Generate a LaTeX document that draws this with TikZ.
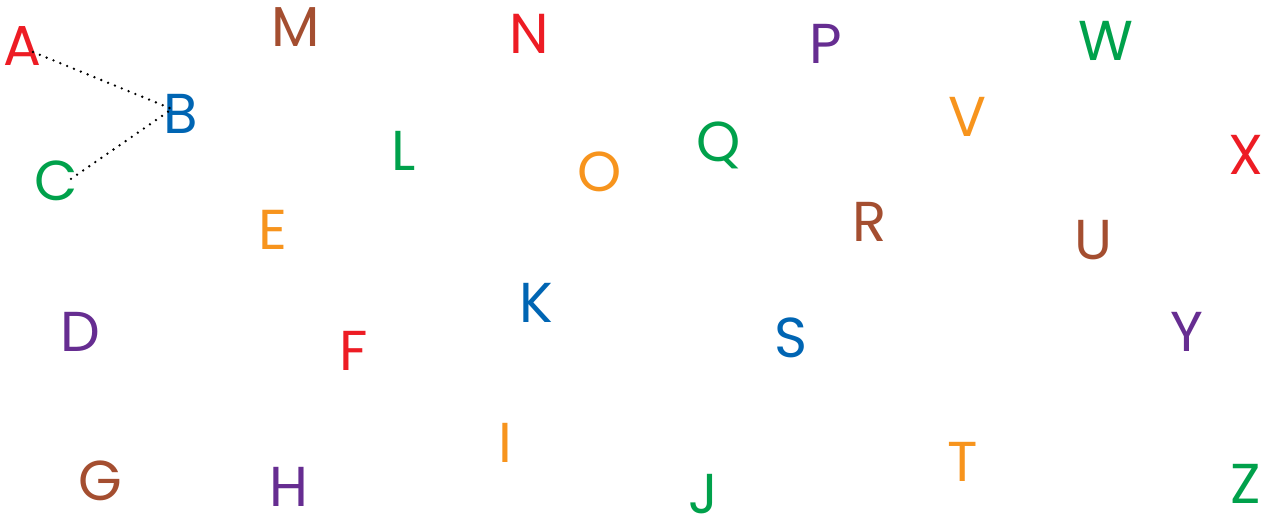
\documentclass[tikz,border=0pt]{standalone}
\usepackage{fontspec}
\setmainfont{Poppins}
\definecolor{lred}{RGB}{237,28,36}
\definecolor{lblue}{RGB}{0,101,179}
\definecolor{lgreen}{RGB}{0,161,75}
\definecolor{lorange}{RGB}{247,148,29}
\definecolor{lpurple}{RGB}{102,45,145}
\definecolor{lbrown}{RGB}{164,78,48}
\tikzset{
  letter/.style={inner sep=0pt, anchor=base, font=\fontsize{32}{36}\selectfont},
  dotline/.style={line width=1.5pt, line cap=round, dash pattern=on 0pt off 4.2pt}
}
\begin{document}
\begin{tikzpicture}[x=0.02cm, y=-0.02cm]
	\useasboundingbox (0,0) rectangle (1270,521);
	% letters, placed by base line
	\foreach \l/\x/\y/\c in {A/22/65/lred, M/296/46/lbrown, N/529/53/lred, P/826/63/lpurple, W/1106/60/lgreen,
			B/181/133/lblue, V/967/136/lorange, L/404/170/lgreen, Q/719/161/lgreen, O/600/191/lorange, X/1246/174/lred,
			C/56/200/lgreen, E/273/249/lorange, R/870/241/lbrown, U/1093/259/lbrown,
			K/536/322/lblue, D/80/351/lpurple, S/791/357/lblue, Y/1187/351/lpurple, F/354/370/lred,
			I/505/462/lorange, T/963/481/lorange, G/100/500/lbrown, H/289/506/lpurple, J/703/513/lgreen, Z/1246/503/lgreen}{
		\node[letter, text=\c] (\l) at (\x,\y) {\l};}
	\draw[dotline] ([shift={(11,-13)}]A.base) -- ([shift={(-9,-24)}]B.base) -- ([shift={(9,-17)}]C.base);
\end{tikzpicture}
\end{document}
